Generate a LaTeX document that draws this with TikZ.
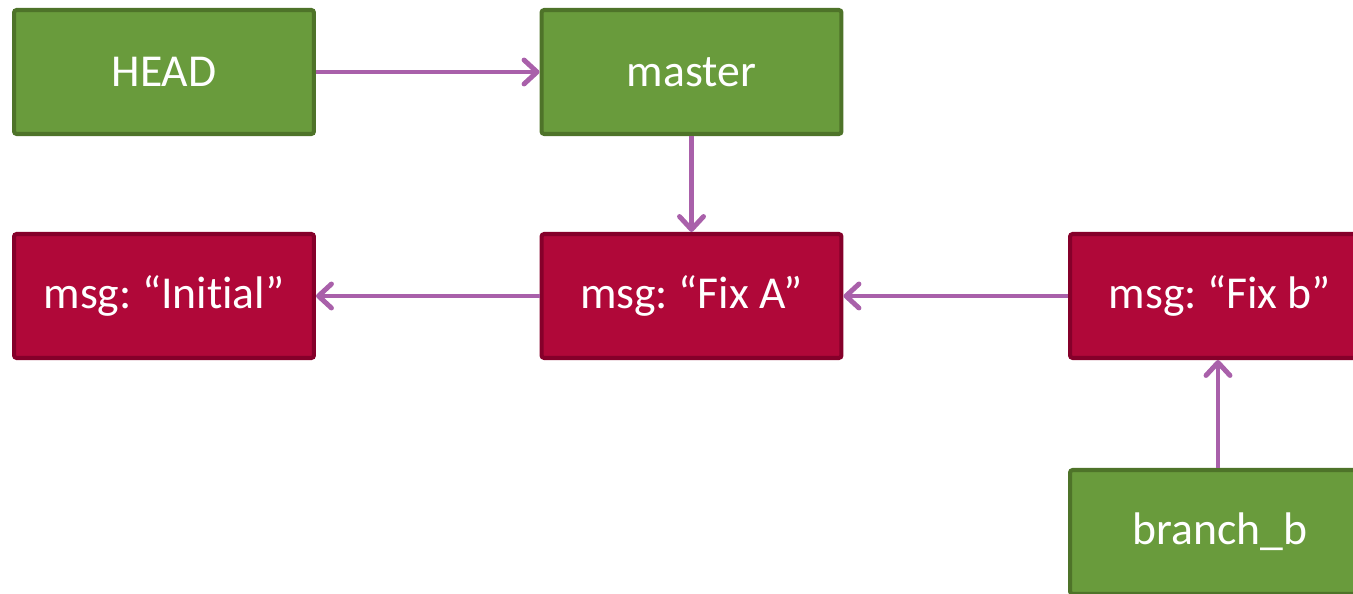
\documentclass[tikz,border=0pt]{standalone}
\usepackage{fontspec}
\setmainfont[Ligatures={NoCommon}]{Carlito}
\usepackage{tikz}
\usetikzlibrary{arrows.meta}

\definecolor{refgreen}{HTML}{699B3C}
\definecolor{refgreendark}{HTML}{4E7329}
\definecolor{refred}{HTML}{B00839}
\definecolor{refreddark}{HTML}{85002A}
\definecolor{refarrow}{HTML}{A960AA}
\frenchspacing

\begin{document}
\begin{tikzpicture}[x=0.02cm,y=-0.02cm]
      \useasboundingbox (0,0) rectangle (1353,594);
      \clip (0,0) rectangle (1353,594);

      \begin{scope}[every node/.style={rectangle,rounded corners=1.5pt,line width=2.3pt,
          minimum width=6.0cm,minimum height=2.48cm,text=white,
          font=\fontsize{26}{30}\selectfont}]
        \node[fill=refgreen,draw=refgreendark] (head) at (164,72) {HEAD};
        \node[fill=refgreen,draw=refgreendark] (master) at (691.5,72) {master};
        \node[fill=refred,draw=refreddark] (c0) at (164,296) {msg: “Initial”};
        \node[fill=refred,draw=refreddark] (c1) at (691.5,296) {msg: “Fix A”};
        \node[fill=refred,draw=refreddark] (c2) at (1220,296) {msg: “Fix b”};
        \node[fill=refgreen,draw=refgreendark] (bb) at (1220,532) {branch\_b};
      \end{scope}

      \begin{scope}[>={Straight Barb[length=2.6mm,width=4.8mm,round]},
          every edge/.style={draw=refarrow,line width=2.8pt}]
        \path [->] (head) edge (master);
        \path [->] (master) edge (c1);
        \path [->] (c1) edge (c0);
        \path [->] (c2) edge (c1);
        \path [->] (bb.north -| c2.south) ++(-2,0) coordinate (bbtop) edge (bbtop |- c2.south);
      \end{scope}
    \end{tikzpicture}
\end{document}
